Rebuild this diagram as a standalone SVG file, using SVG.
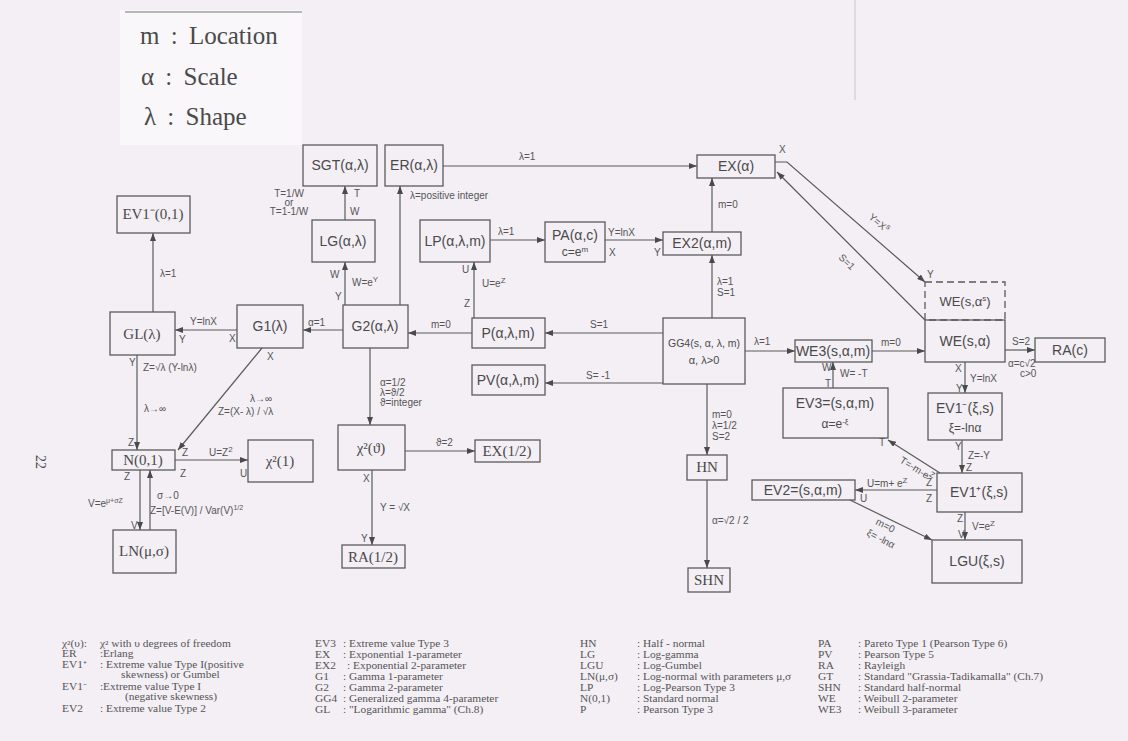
<svg xmlns="http://www.w3.org/2000/svg" width="1128" height="741" viewBox="0 0 1128 741">
<style>
.bx{fill:none;stroke:#5a5a5a;stroke-width:1.3}
.t{font-family:"Liberation Sans",Arial,sans-serif;font-size:14px;fill:#4a4a4a;text-anchor:middle}
.r{font-family:"Liberation Serif","Times New Roman",serif;font-size:15px;fill:#4a4a4a;text-anchor:middle}
.l{font-family:"Liberation Sans",Arial,sans-serif;font-size:10px;fill:#555}
.lg{font-family:"Liberation Serif","Times New Roman",serif;font-size:9.5px;fill:#555}
.big{font-family:"Liberation Serif","Times New Roman",serif;font-size:25px;fill:#4a4a4a;word-spacing:5px}
#connectors path{fill:none;stroke:#5a5a5a;stroke-width:1.2;marker-end:url(#ah)}
</style>
<defs>
<marker id="ah" markerUnits="userSpaceOnUse" markerWidth="8" markerHeight="6" refX="8" refY="3" orient="auto"><path d="M0,0 L8,3 L0,6 z" fill="#4a4a4a"/></marker>
</defs>
<rect width="1128" height="741" fill="#f3eff5"/>
<line x1="855" y1="0" x2="855" y2="100" stroke="#c8c4cc" stroke-width="1"/>
<g id="key">
<rect x="120" y="10" width="182" height="135" fill="#f9f7fa"/>
<line x1="125" y1="12" x2="302" y2="12" stroke="#777" stroke-width="1"/>
<text class="big" x="140" y="44">m : Location</text>
<text class="big" x="141" y="85">α : Scale</text>
<text class="big" x="144" y="125">λ : Shape</text>
</g>
<text class="r" transform="translate(36,462) rotate(90)" style="font-size:14px">22</text>

<g id="connectors">
<path d="M345,220 V186"/>
<path d="M400,305 V186"/>
<path d="M443,166 H697"/>
<path d="M775,162 H787 L925,282"/>
<path d="M925,320 L777,172"/>
<path d="M712,232 V178"/>
<path d="M712,318 V255"/>
<path d="M490,240 H545"/>
<path d="M605,240 H663"/>
<path d="M474,318 V262"/>
<path d="M472,333 H408"/>
<path d="M663,333 H545"/>
<path d="M663,383 H545"/>
<path d="M745,351 H795"/>
<path d="M872,351 H925"/>
<path d="M1005,350 H1035"/>
<path d="M833,388 V362"/>
<path d="M965,362 V393"/>
<path d="M962,440 V473"/>
<path d="M940,473 L888,440"/>
<path d="M937,490 H855"/>
<path d="M965,512 V540"/>
<path d="M850,500 L932,540"/>
<path d="M153,312 V233"/>
<path d="M237,330 H175"/>
<path d="M343,330 H303"/>
<path d="M345,305 V262"/>
<path d="M370,348 V425"/>
<path d="M137,355 V450"/>
<path d="M262,348 L178,450"/>
<path d="M175,460 H248"/>
<path d="M140,470 V530"/>
<path d="M150,530 V470"/>
<path d="M405,451 H475"/>
<path d="M372,470 V545"/>
<path d="M707,384 V455"/>
<path d="M707,480 V568"/>
</g>

<g id="labels">
<text class="l" x="354" y="197">T</text>
<text class="l" x="350" y="215">W</text>
<text class="l" x="289" y="197" text-anchor="middle">T=1/W</text>
<text class="l" x="289" y="206" text-anchor="middle">or</text>
<text class="l" x="289" y="215" text-anchor="middle">T=1-1/W</text>
<text class="l" x="410" y="199">λ=positive integer</text>
<text class="l" x="519" y="160">λ=1</text>
<text class="l" x="779" y="153">X</text>
<text class="l" transform="translate(868,218) rotate(40.6)">Y=X<tspan dy="-4" font-size="8">s</tspan></text>
<text class="l" transform="translate(838,258) rotate(44.6)">S=1</text>
<text class="l" x="927" y="278">Y</text>
<text class="l" x="718" y="208">m=0</text>
<text class="l" x="717" y="285">λ=1</text>
<text class="l" x="717" y="296">S=1</text>
<text class="l" x="498" y="235">λ=1</text>
<text class="l" x="608" y="236">Y=lnX</text>
<text class="l" x="609" y="256">X</text>
<text class="l" x="654" y="256">Y</text>
<text class="l" x="462" y="273">U</text>
<text class="l" x="482" y="287">U=e<tspan dy="-4" font-size="8">Z</tspan></text>
<text class="l" x="464" y="307">Z</text>
<text class="l" x="431" y="328">m=0</text>
<text class="l" x="590" y="328">S=1</text>
<text class="l" x="586" y="379">S= -1</text>
<text class="l" x="754" y="345">λ=1</text>
<text class="l" x="881" y="346">m=0</text>
<text class="l" x="1012" y="345">S=2</text>
<text class="l" x="1008" y="367">α=c√2</text>
<text class="l" x="1020" y="377">c&gt;0</text>
<text class="l" x="822" y="371">W</text>
<text class="l" x="840" y="377">W= -T</text>
<text class="l" x="825" y="387">T</text>
<text class="l" x="955" y="372">X</text>
<text class="l" x="970" y="382">Y=lnX</text>
<text class="l" x="956" y="392">Y</text>
<text class="l" x="955" y="450">Y</text>
<text class="l" x="968" y="459">Z=-Y</text>
<text class="l" x="966" y="471">Z</text>
<text class="l" x="879" y="446">T</text>
<text class="l" transform="translate(899,462) rotate(32)">T=-m-e<tspan dy="-4" font-size="8">Z</tspan></text>
<text class="l" x="867" y="487">U=m+ e<tspan dy="-4" font-size="8">Z</tspan></text>
<text class="l" x="926" y="486">Z</text>
<text class="l" x="926" y="502">Z</text>
<text class="l" x="860" y="502">U</text>
<text class="l" x="957" y="522">Z</text>
<text class="l" x="972" y="530">V=e<tspan dy="-4" font-size="8">Z</tspan></text>
<text class="l" x="958" y="538">V</text>
<text class="l" transform="translate(875,524) rotate(27)">m=0</text>
<text class="l" transform="translate(866,535) rotate(27)">ξ= -lnα</text>
<text class="l" x="160" y="277">λ=1</text>
<text class="l" x="190" y="325">Y=lnX</text>
<text class="l" x="179" y="343">Y</text>
<text class="l" x="229" y="342">X</text>
<text class="l" x="308" y="326">α=1</text>
<text class="l" x="330" y="278">W</text>
<text class="l" x="352" y="286">W=e<tspan dy="-4" font-size="8">Y</tspan></text>
<text class="l" x="335" y="300">Y</text>
<text class="l" x="380" y="386">α=1/2</text>
<text class="l" x="380" y="396">λ=ϑ/2</text>
<text class="l" x="380" y="406">ϑ=integer</text>
<text class="l" x="129" y="366">Y</text>
<text class="l" x="143" y="371">Z=√λ (Y-lnλ)</text>
<text class="l" x="144" y="412">λ→∞</text>
<text class="l" x="128" y="446">Z</text>
<text class="l" x="267" y="360">X</text>
<text class="l" x="250" y="402">λ→∞</text>
<text class="l" x="218" y="415">Z=(X- λ) / √λ</text>
<text class="l" x="182" y="456">Z</text>
<text class="l" x="209" y="456">U=Z<tspan dy="-4" font-size="8">2</tspan></text>
<text class="l" x="180" y="477">Z</text>
<text class="l" x="240" y="477">U</text>
<text class="l" x="124" y="480">Z</text>
<text class="l" x="88" y="507">V=e<tspan dy="-4" font-size="7">μ+σZ</tspan></text>
<text class="l" x="157" y="499">σ→0</text>
<text class="l" x="150" y="514">Z=[V-E(V)] / Var(V)<tspan dy="-4" font-size="7">1/2</tspan></text>
<text class="l" x="131" y="529">V</text>
<text class="l" x="436" y="446">ϑ=2</text>
<text class="l" x="363" y="482">X</text>
<text class="l" x="380" y="511">Y = √X</text>
<text class="l" x="361" y="542">Y</text>
<text class="l" x="712" y="418">m=0</text>
<text class="l" x="712" y="429">λ=1/2</text>
<text class="l" x="712" y="440">S=2</text>
<text class="l" x="712" y="524">α=√2 / 2</text>
</g>

<g id="SGT"><rect class="bx" x="303" y="145" width="74" height="41"/><text class="t" x="340" y="170">SGT(α,λ)</text></g>
<g id="ER"><rect class="bx" x="385" y="145" width="58" height="41"/><text class="t" x="414" y="170">ER(α,λ)</text></g>
<g id="EX"><rect class="bx" x="697" y="155" width="78" height="23"/><text class="t" x="736" y="171">EX(α)</text></g>
<g id="EV1m01"><rect class="bx" x="117" y="196" width="73" height="37"/><text class="r" x="153" y="219">EV1⁻(0,1)</text></g>
<g id="LG"><rect class="bx" x="312" y="220" width="63" height="42"/><text class="t" x="343" y="246">LG(α,λ)</text></g>
<g id="LP"><rect class="bx" x="420" y="220" width="70" height="42"/><text class="t" x="455" y="246">LP(α,λ,m)</text></g>
<g id="PA"><rect class="bx" x="545" y="222" width="60" height="40"/><text class="t" x="575" y="240">PA(α,c)</text><text class="t" x="575" y="256" style="font-size:12px">c=e<tspan dy="-4" style="font-size:8px">m</tspan></text></g>
<g id="EX2"><rect class="bx" x="663" y="232" width="78" height="23"/><text class="t" x="702" y="248">EX2(α,m)</text></g>
<g id="GL"><rect class="bx" x="110" y="312" width="65" height="43"/><text class="r" x="142" y="339">GL(λ)</text></g>
<g id="G1"><rect class="bx" x="237" y="305" width="66" height="43"/><text class="t" x="270" y="331">G1(λ)</text></g>
<g id="G2"><rect class="bx" x="343" y="305" width="65" height="43"/><text class="t" x="375" y="331">G2(α,λ)</text></g>
<g id="P"><rect class="bx" x="472" y="318" width="73" height="30"/><text class="t" x="508" y="338">P(α,λ,m)</text></g>
<g id="PV"><rect class="bx" x="472" y="365" width="73" height="30"/><text class="t" x="508" y="385">PV(α,λ,m)</text></g>
<g id="GG4"><rect class="bx" x="663" y="318" width="82" height="66"/><text class="t" x="704" y="347" style="font-size:10.5px">GG4(s, α, λ, m)</text><text class="t" x="704" y="364" style="font-size:11px">α, λ&gt;0</text></g>
<g id="WE3"><rect class="bx" x="795" y="340" width="77" height="22"/><text class="t" x="833" y="356">WE3(s,α,m)</text></g>
<g id="WEs"><rect class="bx" x="925" y="282" width="80" height="38" stroke-dasharray="7,4"/><text class="t" x="965" y="306" style="font-size:13px">WE(s,α<tspan dy="-5" style="font-size:8px">s</tspan><tspan dy="5">)</tspan></text></g>
<g id="WE"><rect class="bx" x="925" y="320" width="80" height="42"/><text class="t" x="965" y="346">WE(s,α)</text></g>
<g id="RAc"><rect class="bx" x="1035" y="338" width="70" height="24"/><text class="t" x="1070" y="355">RA(c)</text></g>
<g id="EV3"><rect class="bx" x="783" y="388" width="105" height="50"/><text class="t" x="835" y="408">EV3=(s,α,m)</text><text class="t" x="835" y="428" style="font-size:12px">α=e<tspan dy="-4" style="font-size:8px">-ξ</tspan></text></g>
<g id="EV1mxs"><rect class="bx" x="928" y="393" width="74" height="47"/><text class="t" x="965" y="413">EV1⁻(ξ,s)</text><text class="t" x="965" y="432" style="font-size:12px">ξ=-lnα</text></g>
<g id="N01"><rect class="bx" x="112" y="450" width="63" height="20"/><text class="r" x="143" y="465">N(0,1)</text></g>
<g id="chi1"><rect class="bx" x="248" y="440" width="65" height="42"/><text class="r" x="280" y="466">χ²(1)</text></g>
<g id="chit"><rect class="bx" x="338" y="425" width="67" height="45"/><text class="r" x="371" y="453">χ²(ϑ)</text></g>
<g id="EXh"><rect class="bx" x="475" y="440" width="65" height="22"/><text class="r" x="507" y="456">EX(1/2)</text></g>
<g id="HN"><rect class="bx" x="687" y="455" width="40" height="25"/><text class="r" x="707" y="472">HN</text></g>
<g id="EV2"><rect class="bx" x="752" y="480" width="103" height="20"/><text class="t" x="803" y="495">EV2=(s,α,m)</text></g>
<g id="EV1p"><rect class="bx" x="937" y="473" width="85" height="39"/><text class="t" x="979" y="497">EV1⁺(ξ,s)</text></g>
<g id="LN"><rect class="bx" x="113" y="530" width="63" height="43"/><text class="r" x="144" y="556">LN(μ,σ)</text></g>
<g id="RAh"><rect class="bx" x="342" y="545" width="63" height="23"/><text class="r" x="373" y="562">RA(1/2)</text></g>
<g id="LGU"><rect class="bx" x="932" y="540" width="90" height="43"/><text class="t" x="977" y="566">LGU(ξ,s)</text></g>
<g id="SHN"><rect class="bx" x="688" y="568" width="42" height="24"/><text class="r" x="709" y="585">SHN</text></g>

<g id="legend" transform="scale(1.2,1)">
<text class="lg" x="51.7" y="647">χ²(υ):</text>
<text class="lg" x="83.3" y="647">χ² with υ degrees of freedom</text>
<text class="lg" x="51.7" y="657">ER</text>
<text class="lg" x="83.3" y="657">:Erlang</text>
<text class="lg" x="51.7" y="668">EV1⁺</text>
<text class="lg" x="83.3" y="668">: Extreme value Type I(positive</text>
<text class="lg" x="100.8" y="678">skewness) or Gumbel</text>
<text class="lg" x="51.7" y="690">EV1⁻</text>
<text class="lg" x="83.3" y="690">:Extreme value Type I</text>
<text class="lg" x="104.2" y="700">(negative skewness)</text>
<text class="lg" x="51.7" y="712">EV2</text>
<text class="lg" x="83.3" y="712">: Extreme value Type 2</text>

<text class="lg" x="262.5" y="647">EV3</text>
<text class="lg" x="285.8" y="647">: Extreme value Type 3</text>
<text class="lg" x="262.5" y="658">EX</text>
<text class="lg" x="285.8" y="658">: Exponential 1-parameter</text>
<text class="lg" x="262.5" y="669">EX2</text>
<text class="lg" x="289.2" y="669">: Exponential 2-parameter</text>
<text class="lg" x="262.5" y="680">G1</text>
<text class="lg" x="285.8" y="680">: Gamma  1-parameter</text>
<text class="lg" x="262.5" y="691">G2</text>
<text class="lg" x="285.8" y="691">: Gamma  2-parameter</text>
<text class="lg" x="262.5" y="702">GG4</text>
<text class="lg" x="285.8" y="702">: Generalized gamma 4-parameter</text>
<text class="lg" x="262.5" y="713">GL</text>
<text class="lg" x="285.8" y="713">: "Logarithmic gamma" (Ch.8)</text>

<text class="lg" x="483.3" y="647">HN</text>
<text class="lg" x="530.8" y="647">: Half - normal</text>
<text class="lg" x="483.3" y="658">LG</text>
<text class="lg" x="530.8" y="658">: Log-gamma</text>
<text class="lg" x="483.3" y="669">LGU</text>
<text class="lg" x="530.8" y="669">: Log-Gumbel</text>
<text class="lg" x="483.3" y="680">LN(μ,σ)</text>
<text class="lg" x="530.8" y="680">: Log-normal with parameters μ,σ</text>
<text class="lg" x="483.3" y="691">LP</text>
<text class="lg" x="530.8" y="691">: Log-Pearson Type 3</text>
<text class="lg" x="483.3" y="702">N(0,1)</text>
<text class="lg" x="530.8" y="702">: Standard normal</text>
<text class="lg" x="483.3" y="713">P</text>
<text class="lg" x="530.8" y="713">: Pearson Type 3</text>

<text class="lg" x="681.7" y="647">PA</text>
<text class="lg" x="715" y="647">: Pareto Type 1 (Pearson Type 6)</text>
<text class="lg" x="681.7" y="658">PV</text>
<text class="lg" x="715" y="658">: Pearson Type 5</text>
<text class="lg" x="681.7" y="669">RA</text>
<text class="lg" x="715" y="669">: Rayleigh</text>
<text class="lg" x="681.7" y="680">GT</text>
<text class="lg" x="715" y="680">: Standard "Grassia-Tadikamalla" (Ch.7)</text>
<text class="lg" x="681.7" y="691">SHN</text>
<text class="lg" x="715" y="691">: Standard half-normal</text>
<text class="lg" x="681.7" y="702">WE</text>
<text class="lg" x="715" y="702">: Weibull  2-parameter</text>
<text class="lg" x="681.7" y="713">WE3</text>
<text class="lg" x="715" y="713">: Weibull  3-parameter</text>
</g>
</svg>
